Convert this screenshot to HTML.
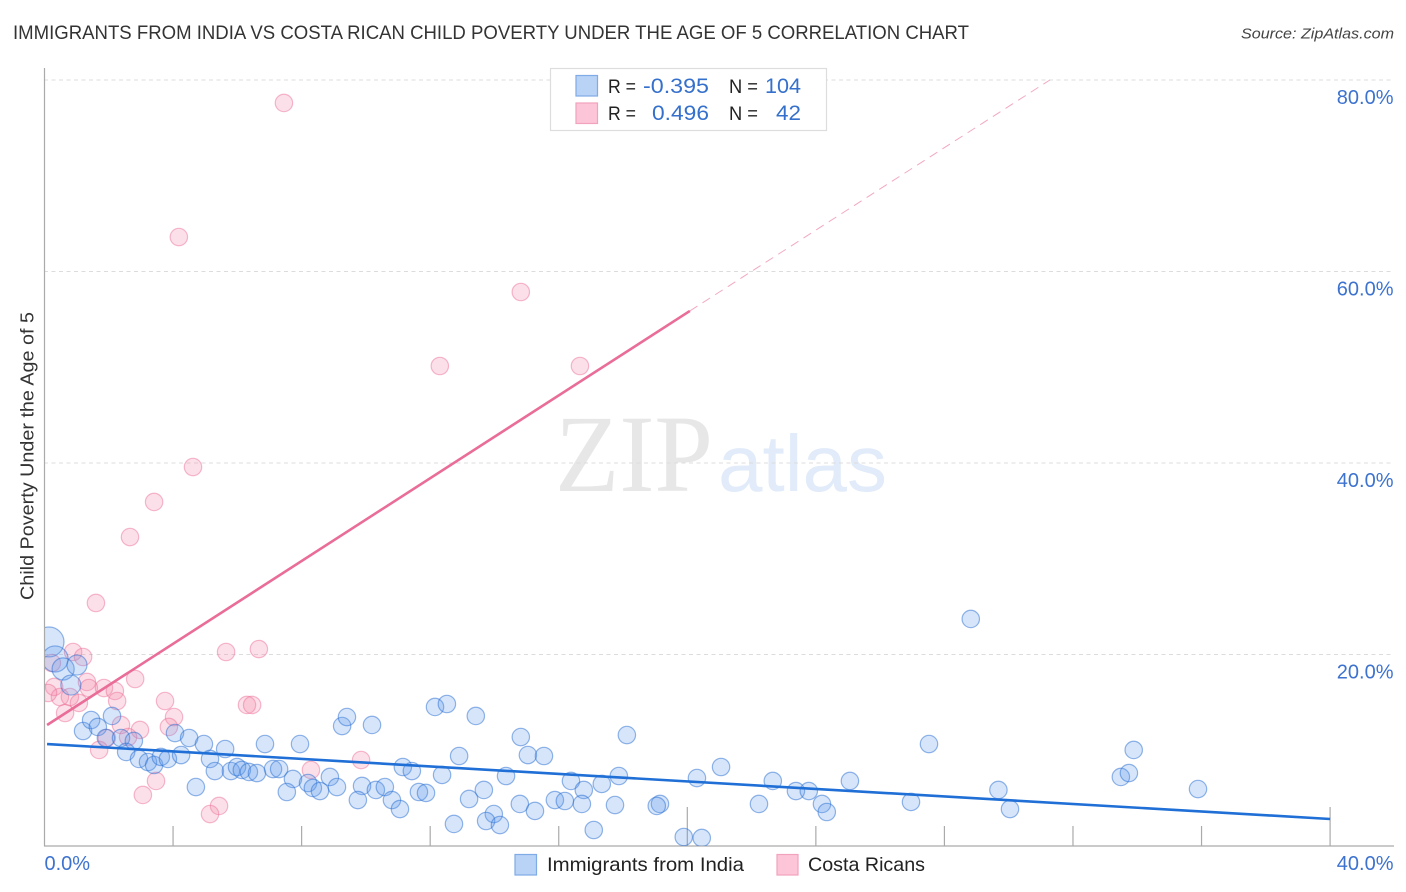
<!DOCTYPE html>
<html lang="en">
<head>
<meta charset="utf-8">
<title>Immigrants from India vs Costa Rican Child Poverty Correlation Chart</title>
<style>
html,body{margin:0;padding:0;background:#fff;width:1406px;height:892px;overflow:hidden}
svg{display:block}
text{font-family:"Liberation Sans",sans-serif}
</style>
</head>
<body>
<svg id="chart" xmlns="http://www.w3.org/2000/svg" width="1406" height="892" viewBox="0 0 1406 892">
  <text x="13" y="39" font-size="19.5" fill="#333" textLength="956" lengthAdjust="spacingAndGlyphs">IMMIGRANTS FROM INDIA VS COSTA RICAN CHILD POVERTY UNDER THE AGE OF 5 CORRELATION CHART</text>
  <text x="1394" y="38.500" font-size="15" font-style="italic" fill="#444" text-anchor="end" textLength="153" lengthAdjust="spacingAndGlyphs">Source: ZipAtlas.com</text>
  <text transform="translate(33.500,600) rotate(-90)" font-size="18.500" fill="#333" textLength="288" lengthAdjust="spacingAndGlyphs">Child Poverty Under the Age of 5</text>

  <g>
    <text x="555" y="491" style="font-family:'Liberation Serif',serif" font-size="110" fill="#e7e7e7" textLength="158" lengthAdjust="spacingAndGlyphs">ZIP</text>
    <text x="718" y="491" font-size="80" fill="#e1ebf9" textLength="169" lengthAdjust="spacingAndGlyphs">atlas</text>
  </g>

  <g id="grid"></g>

  <g id="axes">
    <line x1="44.500" y1="68" x2="44.500" y2="846" stroke="#aaa" stroke-width="1.200"/>
    <line x1="44" y1="846" x2="1394" y2="846" stroke="#aaa" stroke-width="1.200"/>
  </g>

  <svg x="45" y="60" width="1350" height="786" viewBox="45 60 1350 786">
    <g id="pink-points"></g>
    <g id="blue-points"></g>
  </svg>
  <g id="trends"></g>
  <g id="tick-labels"></g>

  <g>
    <rect x="550.500" y="68.500" width="276" height="62" fill="#fff" stroke="#ddd" stroke-width="1.200"/>
    <rect x="576" y="75.500" width="21.500" height="20.500" fill="#b9d3f6" stroke="#7fabe6" stroke-width="1.200"/>
    <rect x="576" y="103" width="21.500" height="20.500" fill="#fcc6d8" stroke="#f2a2bc" stroke-width="1.200"/>
    <text x="608" y="93" font-size="19.500" fill="#222" textLength="28" lengthAdjust="spacingAndGlyphs">R =</text>
    <text x="643" y="93" font-size="21.500" fill="#3570cc" textLength="66" lengthAdjust="spacingAndGlyphs">-0.395</text>
    <text x="729" y="93" font-size="19.500" fill="#222" textLength="29" lengthAdjust="spacingAndGlyphs">N =</text>
    <text x="765" y="93" font-size="21.500" fill="#3570cc" textLength="36" lengthAdjust="spacingAndGlyphs">104</text>
    <text x="608" y="120" font-size="19.500" fill="#222" textLength="28" lengthAdjust="spacingAndGlyphs">R =</text>
    <text x="652" y="120" font-size="21.500" fill="#3570cc" textLength="57" lengthAdjust="spacingAndGlyphs">0.496</text>
    <text x="729" y="120" font-size="19.500" fill="#222" textLength="29" lengthAdjust="spacingAndGlyphs">N =</text>
    <text x="776" y="120" font-size="21.500" fill="#3570cc" textLength="25" lengthAdjust="spacingAndGlyphs">42</text>
  </g>

  <g>
    <rect x="515" y="854.500" width="21.500" height="20.500" fill="#b9d3f6" stroke="#7fabe6" stroke-width="1.200"/>
    <text x="547" y="871" font-size="19.500" fill="#222" textLength="197" lengthAdjust="spacingAndGlyphs">Immigrants from India</text>
    <rect x="777" y="854.500" width="21" height="20.500" fill="#fcc6d8" stroke="#f2a2bc" stroke-width="1.200"/>
    <text x="808" y="871" font-size="19.500" fill="#222" textLength="117" lengthAdjust="spacingAndGlyphs">Costa Ricans</text>
  </g>
</svg>
<script>
// Percent values
const yTickValues = [20, 40, 60, 80];
const yTickLabels = ["20.0%", "40.0%", "60.0%", "80.0%"];
const xTickValues = [4, 8, 12, 16, 20, 24, 28, 32, 36, 40];
const xEndValues = [0, 40];
const xEndLabels = ["0.0%", "40.0%"];

const indiaX = [0.14,0.33,0.58,1.01,0.82,1.20,1.45,1.66,2.10,1.91,2.38,2.78,2.54,2.94,3.22,3.41,3.62,3.84,4.25,4.06,4.50,4.96,5.62,5.15,5.30,5.80,5.99,6.14,6.36,6.61,6.86,7.95,7.11,7.30,7.73,8.20,8.35,8.57,7.54,8.88,9.10,4.71,9.26,9.41,10.19,12.15,12.52,13.42,14.82,15.04,15.54,18.12,12.90,11.15,11.43,12.37,14.36,9.88,10.31,10.59,9.75,10.81,11.06,11.65,11.87,13.67,13.21,13.98,13.74,14.17,12.74,14.79,15.26,15.88,16.19,16.38,16.78,16.72,17.34,17.87,17.75,19.15,19.05,17.09,19.89,20.45,20.30,28.82,21.05,22.66,22.23,23.38,23.78,24.19,24.34,25.06,26.96,27.52,29.68,30.04,33.49,33.74,33.89,35.89];
const indiaY = [21.31,19.53,18.49,18.90,16.81,12.01,13.16,12.43,13.58,11.28,11.28,10.97,9.82,9.09,8.77,8.46,9.30,9.09,9.50,11.80,11.28,10.65,10.13,9.09,7.83,7.83,8.25,7.94,7.73,7.62,10.65,10.65,8.04,8.04,7.00,6.58,6.06,5.74,5.64,7.21,6.16,6.16,12.53,13.47,12.64,14.52,14.83,13.58,11.38,9.50,9.40,11.59,9.40,8.25,7.83,7.42,7.31,6.27,5.85,6.16,4.80,4.80,3.86,5.64,5.54,5.85,4.91,3.34,2.61,2.19,2.30,4.39,3.66,4.80,4.70,6.79,5.85,4.39,6.48,7.31,4.28,4.39,4.18,1.67,0.94,0.84,7.10,23.71,8.25,6.79,4.39,5.74,5.74,4.39,3.55,6.79,4.60,10.65,5.85,3.86,7.21,7.62,10.03,5.95];
// Relative bubble size for the five largest India points; all others are 1
const indiaLargeSizes = [1.72,1.5,1.27,1.15,1.15];

const costaX = [7.45,4.18,14.82,12.30,16.66,4.62,3.41,2.66,1.60,5.65,6.67,0.89,1.20,1.32,1.38,1.85,2.19,2.26,2.82,3.75,4.03,3.87,6.30,6.46,2.38,2.97,1.94,2.60,1.70,3.47,3.06,5.43,5.15,8.29,9.85,0.30,0.48,0.79,1.07,0.64,0.11,0.23];
const costaY = [77.60,63.60,57.86,50.13,50.13,39.58,35.93,32.27,25.38,20.26,20.57,20.26,19.74,17.13,16.50,16.50,16.19,15.14,17.44,15.14,13.47,12.43,14.73,14.73,12.64,12.12,11.28,11.38,10.03,6.79,5.33,4.18,3.34,7.94,8.98,16.61,15.56,15.56,14.94,13.89,15.98,19.11];

const indiaTrendX = [0.08, 40];
const indiaTrendY = [10.65, 2.82];
const costaTrendX = [0.08, 20.08];
const costaTrendY = [12.64, 55.88];
const costaProjectionX = [20.08, 31.28];
const costaProjectionY = [55.88, 80];

const NS = 'http://www.w3.org/2000/svg';
function xScale(v) { return 44.5 + v * 32.14; }
function yScale(v) { return 846 - v * 9.575; }
function make(tag, parentId, attrs, text) {
  const el = document.createElementNS(NS, tag);
  for (const k in attrs) el.setAttribute(k, attrs[k]);
  if (text !== undefined) el.textContent = text;
  document.getElementById(parentId).appendChild(el);
  return el;
}

yTickValues.forEach(function (v, i) {
  const line = make('line', 'grid', {x1: 44, x2: 1394, y1: yScale(v), y2: yScale(v), stroke: '#dcdcdc', 'stroke-width': 1, 'stroke-dasharray': '4 3.5'});
  
  
  const label = make('text', 'tick-labels', {x: 1393.5, y: yScale(v) + 24, 'font-size': 20, fill: '#3d73cf', 'text-anchor': 'end'}, yTickLabels[i]);
  
  
});

xTickValues.forEach(function (v) {
  const tall = v === 20 || v === 40;
  const tick = make('line', 'axes', {x1: xScale(v), x2: xScale(v), y1: tall ? 807 : 826, y2: 846, stroke: '#aaa', 'stroke-width': 1.2});
  
  
});

xEndValues.forEach(function (v, i) {
  const label = make('text', 'tick-labels', {x: i === 0 ? xScale(v) : 1393.5, y: 870, 'font-size': 20, fill: '#3d73cf', 'text-anchor': i === 0 ? 'start' : 'end'}, xEndLabels[i]);
  
  
});

costaX.forEach(function (v, i) {
  const c = make('circle', 'pink-points', {cx: xScale(v), cy: yScale(costaY[i]), r: 8.7, fill: 'rgba(244,130,168,0.25)', stroke: 'rgba(236,110,150,0.48)', 'stroke-width': 1.2});
  
  
});

indiaX.forEach(function (v, i) {
  const size = indiaLargeSizes[i] || 1;
  const c = make('circle', 'blue-points', {cx: xScale(v), cy: yScale(indiaY[i]), r: 8.7 * size, fill: 'rgba(90,150,235,0.25)', stroke: 'rgba(40,110,210,0.5)', 'stroke-width': 1.2});
  
  
});

const projection = make('line', 'trends', {x1: xScale(costaProjectionX[0]), y1: yScale(costaProjectionY[0]), x2: xScale(costaProjectionX[1]), y2: yScale(costaProjectionY[1]), stroke: '#ea6f9a', 'stroke-width': 1, 'stroke-dasharray': '9 6', opacity: 0.6});



const costaTrend = make('line', 'trends', {x1: xScale(costaTrendX[0]), y1: yScale(costaTrendY[0]), x2: xScale(costaTrendX[1]), y2: yScale(costaTrendY[1]), stroke: '#e96d98', 'stroke-width': 2.6});



const indiaTrend = make('line', 'trends', {x1: xScale(indiaTrendX[0]), y1: yScale(indiaTrendY[0]), x2: xScale(indiaTrendX[1]), y2: yScale(indiaTrendY[1]), stroke: '#1f6fd6', 'stroke-width': 2.6});


</script>
</body>
</html>
